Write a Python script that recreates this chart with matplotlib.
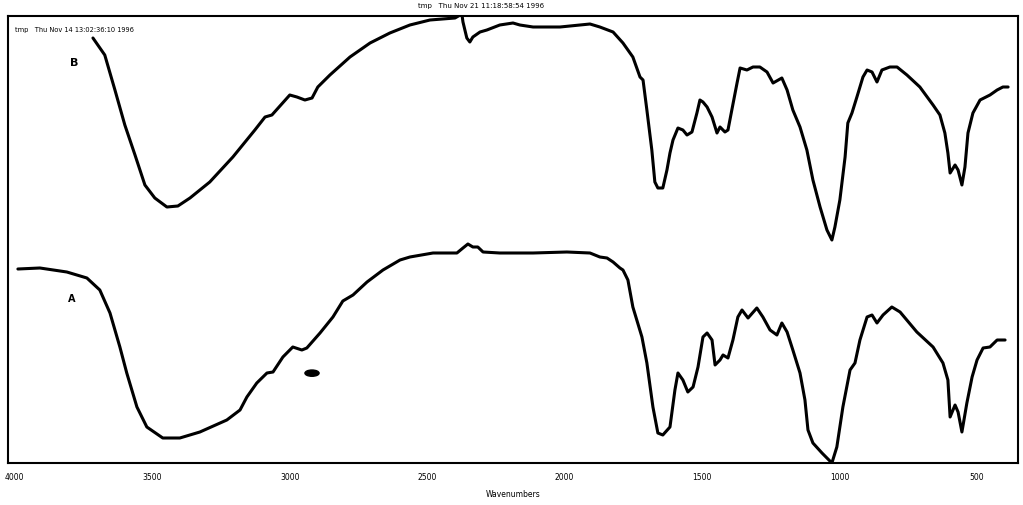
import matplotlib
matplotlib.use("Agg")
import matplotlib.pyplot as plt
from matplotlib.patches import Ellipse

# spectrum B (upper trace): wavenumber (cm-1) and transmittance (arb. units)
wn_b = [3716, 3673, 3636, 3600, 3563, 3527, 3491, 3447, 3407, 3363, 3291, 3207,
        3127, 3090, 3065, 3000, 2974, 2945, 2919, 2898, 2854, 2781, 2708, 2636,
        2563, 2490, 2399, 2374, 2370, 2356, 2345, 2334, 2308, 2283, 2236, 2188,
        2163, 2115, 2017, 1908, 1872, 1824, 1788, 1752, 1726, 1715, 1701, 1683,
        1672, 1661, 1643, 1628, 1617, 1606, 1588, 1570, 1555, 1537, 1519, 1508,
        1497, 1482, 1464, 1446, 1435, 1417, 1406, 1392, 1373, 1362, 1337, 1315,
        1290, 1264, 1242, 1210, 1191, 1170, 1144, 1119, 1097, 1071, 1046, 1028,
        1017, 999, 980, 970, 955, 937, 915, 900, 882, 864, 846, 817, 791, 755,
        708, 660, 635, 617, 606, 598, 580, 569, 555, 544, 533, 515, 489, 453,
        427, 406, 387]
tr_b = [425, 408, 373, 338, 308, 278, 265, 256, 257, 265, 281, 306,
        333, 346, 348, 368, 366, 363, 365, 376, 388, 406, 420, 430,
        438, 443, 445, 449, 441, 425, 421, 426, 431, 433, 438, 440,
        438, 436, 436, 439, 436, 431, 420, 406, 386, 383, 353, 313,
        281, 275, 275, 293, 310, 323, 335, 333, 328, 331, 350, 363,
        361, 356, 346, 330, 336, 331, 333, 353, 380, 395, 393, 396,
        396, 391, 380, 385, 373, 353, 336, 313, 283, 256, 233, 223,
        236, 263, 306, 340, 350, 366, 386, 393, 391, 381, 393, 396, 396, 388,
        376, 358, 348, 330, 310, 290, 298, 293, 278, 296, 330, 350, 363, 368,
        373, 376, 376]

# spectrum A (lower trace)
wn_a = [3989, 3909, 3811, 3738, 3691, 3654, 3618, 3593, 3556, 3520, 3462, 3400,
        3327, 3229, 3181, 3156, 3120, 3083, 3061, 3025, 2989, 2956, 2938, 2890,
        2843, 2807, 2770, 2719, 2661, 2599, 2563, 2479, 2392, 2370, 2352, 2334,
        2316, 2297, 2236, 2115, 1992, 1908, 1872, 1846, 1824, 1799, 1788, 1770,
        1752, 1719, 1701, 1679, 1661, 1643, 1617, 1599, 1588, 1570, 1552, 1533,
        1515, 1497, 1482, 1464, 1453, 1435, 1424, 1406, 1388, 1370, 1355, 1333,
        1301, 1279, 1253, 1228, 1210, 1191, 1170, 1144, 1126, 1115, 1097, 1064,
        1028, 1010, 988, 962, 944, 926, 900, 882, 864, 842, 810, 780, 719, 660,
        624, 606, 598, 580, 569, 555, 537, 518, 500, 478, 453, 427, 398]
tr_a = [194, 195, 191, 185, 173, 150, 116, 90, 56, 36, 25, 25,
        31, 43, 53, 66, 80, 90, 91, 106, 116, 113, 115, 130,
        146, 162, 168, 181, 193, 203, 206, 210, 210, 215, 219, 216,
        216, 211, 210, 210, 211, 210, 206, 205, 201, 195, 193, 183,
        156, 126, 100, 56, 30, 28, 36, 73, 90, 83, 71, 76,
        96, 126, 130, 123, 98, 103, 108, 105, 123, 146, 153, 145,
        155, 146, 133, 128, 140, 131, 113, 90, 63, 33, 20, 10,
        0, 16, 56, 93, 100, 123, 146, 148, 140, 148, 156, 151, 131, 116,
        100, 83, 46, 58, 51, 31, 60, 86, 103, 115, 116, 123, 123]

xticks = [4000, 3500, 3000, 2500, 2000, 1500, 1000, 500]
xtick_labels = ["4000", "3500", "3000", "2500", "2000", "1500", "1000", "500"]

fig = plt.figure(figsize=(10.23, 5.05), dpi=100)
ax = fig.add_axes([8 / 1023, 42 / 505, 1010 / 1023, 447 / 505])

ax.plot(wn_b, tr_b, color="black", lw=2.2, solid_joinstyle="round",
        solid_capstyle="round")
ax.plot(wn_a, tr_a, color="black", lw=2.2, solid_joinstyle="round",
        solid_capstyle="round")

ax.set_xlim(4025, 351)
ax.set_ylim(0, 447)
ax.set_xticks(xticks)
ax.set_xticklabels(xtick_labels, fontsize=5.5)
ax.tick_params(axis="x", length=0, pad=7)
ax.set_yticks([])
for s in ax.spines.values():
    s.set_linewidth(1.5)
ax.set_xlabel("Wavenumbers", fontsize=5.5, labelpad=6)

# trace labels and scan stamps
ax.text(3785, 400, "B", fontsize=8, fontweight="bold", ha="center", va="center")
ax.text(3795, 164, "A", fontsize=7, fontweight="bold", ha="center", va="center")
# ink blot left on the scan
ax.add_patch(Ellipse((0.301, 0.201), 0.014, 0.014, transform=ax.transAxes,
                     color="black"))
ax.text(0.007, 0.968, "tmp   Thu Nov 14 13:02:36:10 1996", transform=ax.transAxes,
        fontsize=4.8, ha="left", va="center")
fig.text(0.47, 0.988, "tmp   Thu Nov 21 11:18:58:54 1996", fontsize=5,
         ha="center", va="center")

fig.savefig("out.png", dpi=100, facecolor="white")
